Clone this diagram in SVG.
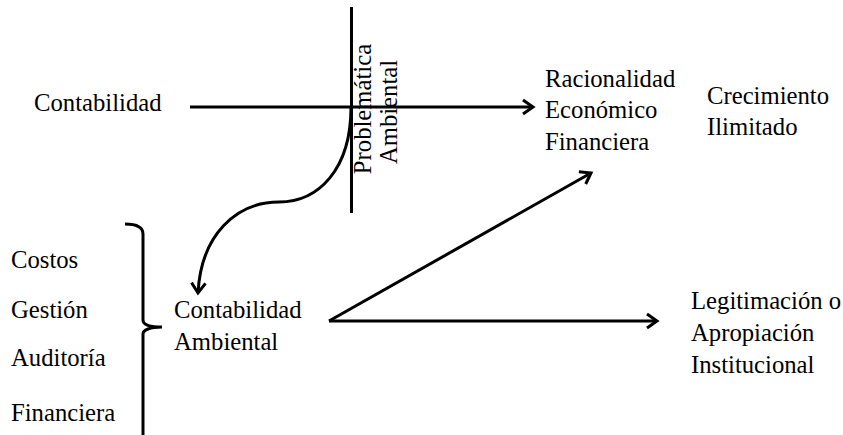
<svg xmlns="http://www.w3.org/2000/svg" width="843" height="435" viewBox="0 0 843 435">
<style>
text{font-family:"Liberation Serif","DejaVu Serif",serif;font-size:24.7px;fill:#000}
.ln{stroke:#000;stroke-width:3;fill:none}
</style>
<defs>
<marker id="ah" markerUnits="userSpaceOnUse" markerWidth="20" markerHeight="20" viewBox="-12 -10 14 20" refX="0" refY="0" orient="auto" overflow="visible">
<path d="M-10,-7 L0,0 L-10,7" fill="none" stroke="#000" stroke-width="3" stroke-linejoin="miter"/>
</marker>
</defs>
<rect width="843" height="435" fill="#fff"/>
<g id="connectors">
<line class="ln" x1="351.5" y1="7" x2="351.5" y2="213"/>
<line class="ln" x1="190" y1="107" x2="533" y2="107" marker-end="url(#ah)"/>
<path class="ln" d="M351,107 C351,170 318,202 279,202 C236,202 201,235 198,293" marker-end="url(#ah)"/>
<line class="ln" x1="329" y1="321" x2="591" y2="173" marker-end="url(#ah)"/>
<line class="ln" x1="329" y1="321" x2="657" y2="321" marker-end="url(#ah)"/>
<path class="ln" d="M125,224 C135,224 143,226 143,234 L143,320 C143,325 150,327 162,327 C150,327 143,330 143,334 L143,435"/>
</g>
<g id="problematica">
<text transform="translate(371,109) rotate(-90)" text-anchor="middle">Problemática</text>
<text transform="translate(397,112) rotate(-90)" text-anchor="middle">Ambiental</text>
</g>
<g id="contabilidad"><text x="34" y="111">Contabilidad</text></g>
<g id="racionalidad">
<text x="545" y="87">Racionalidad</text>
<text x="545" y="118">Económico</text>
<text x="545" y="150">Financiera</text>
</g>
<g id="crecimiento">
<text x="707" y="104">Crecimiento</text>
<text x="707" y="135">Ilimitado</text>
</g>
<g id="tipos">
<text x="11" y="268">Costos</text>
<text x="11" y="318">Gestión</text>
<text x="11" y="366">Auditoría</text>
<text x="11" y="421">Financiera</text>
</g>
<g id="contabilidad-ambiental">
<text x="174" y="318">Contabilidad</text>
<text x="174" y="350">Ambiental</text>
</g>
<g id="legitimacion">
<text x="691" y="309">Legitimación o</text>
<text x="691" y="341">Apropiación</text>
<text x="691" y="373">Institucional</text>
</g>
</svg>
